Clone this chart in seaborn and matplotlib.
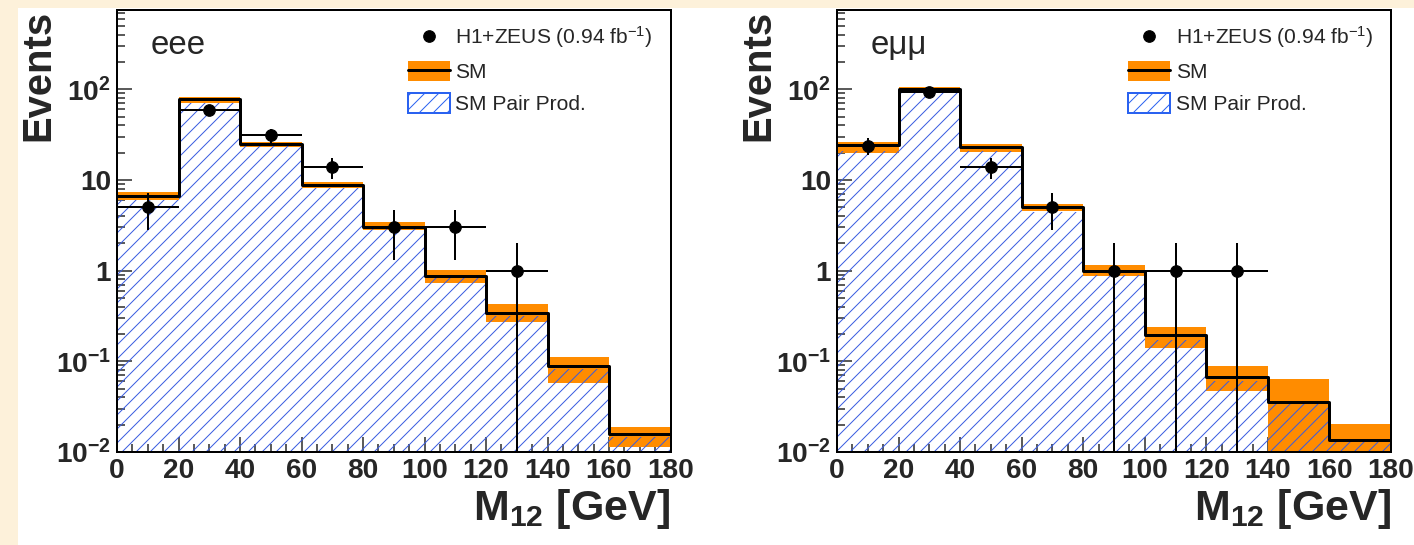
import matplotlib
matplotlib.use('Agg')
import matplotlib.pyplot as plt
import numpy as np
import seaborn as sns
from matplotlib.legend_handler import HandlerTuple
from matplotlib.lines import Line2D
from matplotlib.patches import Patch, Rectangle
from matplotlib.ticker import LogLocator, MultipleLocator, NullFormatter

# binning (GeV)
bin_edges = [0, 20, 40, 60, 80, 100, 120, 140, 160, 180]
bin_centers = [10, 30, 50, 70, 90, 110, 130, 150, 170]
data_centers = [10, 30, 50, 70, 90, 110, 130]

# eee channel
eee_sm = [6.7, 78, 25, 8.8, 3.05, 0.88, 0.345, 0.088, 0.0157]
eee_sm_lo = [6.0, 70, 23.4, 8.1, 2.8, 0.73, 0.27, 0.057, 0.0114]
eee_sm_hi = [7.3, 82, 26.5, 9.5, 3.4, 1.03, 0.43, 0.113, 0.0189]
eee_pair = [6.0, 71, 23.5, 8.2, 2.9, 0.82, 0.32, 0.082, 0.0148]
eee_data = [5, 59, 31, 14, 3, 3, 1]
eee_data_err = [2.2, 7.7, 5.6, 3.7, 1.7, 1.7, 1.0]

# e mu mu channel
emm_sm = [24.5, 100, 23, 5.05, 1.0, 0.193, 0.068, 0.036, 0.0134]
emm_sm_lo = [20, 92, 20.5, 4.5, 0.87, 0.139, 0.047, 0.005, 0.008]
emm_sm_hi = [26, 105, 25, 5.4, 1.16, 0.24, 0.088, 0.064, 0.0204]
emm_pair = [21, 93, 21, 4.4, 0.9, 0.17, 0.06, 0.034, 0.0132]
emm_data = [24, 93, 14, 5, 1, 1, 1]
emm_data_err = [4.9, 9.6, 3.7, 2.2, 1.0, 1.0, 1.0]

ytick_values = [0.01, 0.1, 1, 10, 100]
ytick_labels = [r'$\mathregular{10^{-2}}$', r'$\mathregular{10^{-1}}$', '1', '10',
                r'$\mathregular{10^{2}}$']
xtick_values = [0, 20, 40, 60, 80, 100, 120, 140, 160, 180]

legend_labels = [r'H1+ZEUS (0.94 fb$^{-1}$)', 'SM', 'SM Pair Prod.']

DPI = 84
W, H = 1414, 545
ORANGE = '#FF8C00'
HATCH_BLUE = '#3A5CE0'
LEGEND_BLUE = '#2A62F0'
CREAM = '#FDF1DA'


def px(v):
  return v * 72.0 / DPI


sns.set_style('ticks')
plt.rcParams['font.family'] = ['Liberation Sans', 'DejaVu Sans']
plt.rcParams['mathtext.default'] = 'regular'
plt.rcParams['hatch.linewidth'] = px(1.0)


def draw_panel(ax, channel, sm, sm_lo, sm_hi, pair, data, data_err):
  # orange SM uncertainty band
  ax.bar(bin_centers, np.subtract(sm_hi, sm_lo), bottom=sm_lo, width=20,
         color=ORANGE, linewidth=0, zorder=1)
  # hatched pair production, drawn over the band
  sns.histplot(x=bin_centers, weights=pair, bins=bin_edges, element='bars', fill=True,
               facecolor='none', edgecolor=HATCH_BLUE, linewidth=0, hatch='//',
               ax=ax, zorder=2)
  # SM total
  sns.histplot(x=bin_centers, weights=sm, bins=bin_edges, element='step', fill=False,
               color='black', linewidth=px(3), ax=ax, zorder=3)
  ax.errorbar(data_centers, data, xerr=10, yerr=data_err, fmt='o', color='black',
              ms=px(11.5), elinewidth=px(2), capsize=0, zorder=5)

  ax.set_yscale('log')
  ax.set_xlim(0, 180)
  ax.set_ylim(0.01, 750)
  ax.set_facecolor('white')

  ax.set_xticks(xtick_values)
  ax.xaxis.set_minor_locator(MultipleLocator(5))
  ax.set_yticks(ytick_values, ytick_labels)
  ax.yaxis.set_minor_locator(LogLocator(base=10, subs=np.arange(2, 10)))
  ax.yaxis.set_minor_formatter(NullFormatter())
  ax.tick_params(which='both', direction='in', top=False, right=False,
                 width=px(1.5), labelsize=px(28), pad=px(6))
  ax.tick_params(which='major', length=px(15))
  ax.tick_params(which='minor', length=px(8))
  for label in ax.get_xticklabels() + ax.get_yticklabels():
    label.set_fontweight('bold')
  for spine in ax.spines.values():
    spine.set_visible(True)
    spine.set_linewidth(px(2))
    spine.set_color('black')

  ax.set_ylabel('Events', loc='top', fontsize=px(40), fontweight='bold')
  ax.yaxis.set_label_coords(-0.107, 1.0)
  ax.set_xlabel(r'$\mathregular{M_{12}}$ [GeV]', loc='right', fontsize=px(43),
                fontweight='bold')
  ax.xaxis.set_label_coords(1.0, -0.08)

  ax.text(0.06, 0.92, channel, transform=ax.transAxes, fontsize=px(33), va='center')

  data_handle = Line2D([], [], marker='o', color='black', linestyle='none',
                       markersize=px(11.5))
  sm_handle = (Patch(facecolor=ORANGE, edgecolor='none'),
               Line2D([], [], color='black', linewidth=px(3)))
  pair_handle = Patch(facecolor='white', edgecolor=LEGEND_BLUE, hatch='//',
                      linewidth=px(2))
  ax.legend([data_handle, sm_handle, pair_handle], legend_labels,
            handler_map={tuple: HandlerTuple(ndivide=1, pad=0)},
            loc='upper left', bbox_to_anchor=(0.526, 0.967), frameon=False,
            fontsize=px(21), borderpad=0, borderaxespad=0, handlelength=2.0,
            handleheight=1.1, handletextpad=0.25, labelspacing=0.5)


fig = plt.figure(figsize=(W / DPI, H / DPI), dpi=DPI, facecolor=CREAM)
fig.patches.append(Rectangle((18.0 / W, 0), 1, 1 - 8.0 / H, transform=fig.transFigure,
                             facecolor='white', edgecolor='none', zorder=-10))

ax1 = fig.add_axes([117.0 / W, 93.0 / H, 553.5 / W, 442.0 / H])
ax2 = fig.add_axes([837.0 / W, 93.0 / H, 554.0 / W, 442.0 / H])

draw_panel(ax1, 'eee', eee_sm, eee_sm_lo, eee_sm_hi, eee_pair, eee_data, eee_data_err)
draw_panel(ax2, 'e\u03bc\u03bc', emm_sm, emm_sm_lo, emm_sm_hi, emm_pair, emm_data,
           emm_data_err)

fig.savefig('out.png', dpi=DPI, facecolor=CREAM)
